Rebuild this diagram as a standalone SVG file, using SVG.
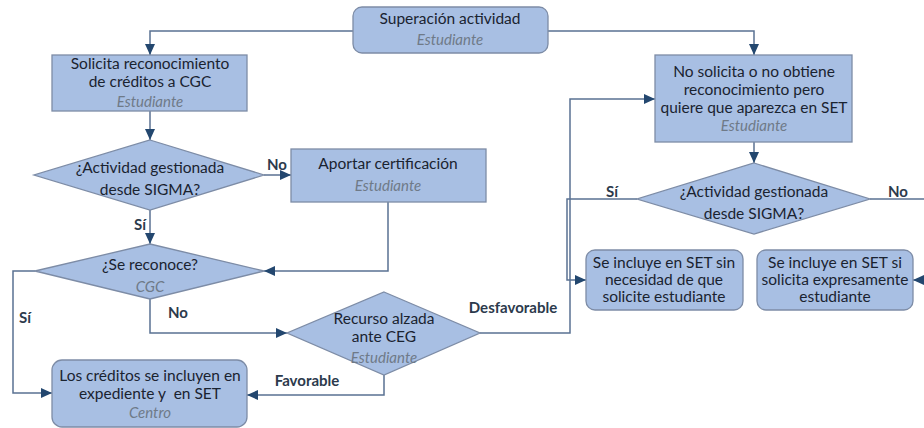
<svg xmlns="http://www.w3.org/2000/svg" width="924" height="428" viewBox="0 0 924 428">
<defs>
<marker id="arr" markerUnits="userSpaceOnUse" markerWidth="12" markerHeight="10" refX="11" refY="5" orient="auto">
<path d="M0,0 L11,5 L0,10 z" fill="#23476f"/>
</marker>
<style>
.shape{fill:#a8bfe3;stroke:#7d8ca6;stroke-width:1.3}
.t{font-family:Lato,"Liberation Sans",sans-serif;font-size:15.5px;fill:#1a2330;text-anchor:middle}
.r{font-family:Lato,"Liberation Sans",sans-serif;font-size:15px;font-style:italic;fill:#6f7a88;text-anchor:middle}
.lbl{font-family:Lato,"Liberation Sans",sans-serif;font-size:15px;font-weight:bold;fill:#2c3a4c;text-anchor:middle}
.c{fill:none;stroke:#5a7192;stroke-width:1.5;marker-end:url(#arr)}
.pre{white-space:pre}
</style>
</defs>
<rect width="924" height="428" fill="#ffffff"/>
<g id="connectors">
<path class="c" d="M353,31 H150 V55"/>
<path class="c" d="M548,31 H754 V55"/>
<path class="c" d="M150,111 V140"/>
<path class="c" d="M264,175 H291"/>
<path class="c" d="M150,210 V244"/>
<path class="c" d="M388,202 V271 H264"/>
<path class="c" d="M35,271 H13 V393 H52"/>
<path class="c" d="M150,299 V333 H287"/>
<path class="c" d="M384,375 V395 H247"/>
<path class="c" d="M480,333 H570 V99 H655"/>
<path class="c" d="M754,142 V163"/>
<path class="c" d="M637,199 H567 V280 H586"/>
<path class="c" d="M870,199 H932 V280 H913"/>
<text class="lbl" x="277" y="170">No</text>
<text class="lbl" x="140" y="230">Sí</text>
<text class="lbl" x="25" y="323">Sí</text>
<text class="lbl" x="178" y="318">No</text>
<text class="lbl" x="307" y="386">Favorable</text>
<text class="lbl" x="513" y="313">Desfavorable</text>
<text class="lbl" x="612" y="197">Sí</text>
<text class="lbl" x="898" y="197">No</text>
</g>
<g id="superacion">
<rect class="shape" x="353" y="7" width="195" height="46" rx="9"/>
<text class="t" x="450" y="24">Superación actividad</text>
<text class="r" x="450" y="45">Estudiante</text>
</g>
<g id="solicita">
<rect class="shape" x="52" y="55" width="195" height="56"/>
<text class="t" x="150" y="69">Solicita reconocimiento</text>
<text class="t" x="150" y="87">de créditos a CGC</text>
<text class="r" x="150" y="107">Estudiante</text>
</g>
<g id="gestionada1">
<polygon class="shape" points="150,140 264,175 150,210 34,175"/>
<text class="t" x="150" y="173">¿Actividad gestionada</text>
<text class="t" x="150" y="195">desde SIGMA?</text>
</g>
<g id="aportar">
<rect class="shape" x="291" y="149" width="195" height="53"/>
<text class="t" x="388" y="169">Aportar certificación</text>
<text class="r" x="388" y="191">Estudiante</text>
</g>
<g id="reconoce">
<polygon class="shape" points="150,244 264,271 150,299 35,271"/>
<text class="t" x="150" y="270">¿Se reconoce?</text>
<text class="r" x="150" y="292">CGC</text>
</g>
<g id="recurso">
<polygon class="shape" points="384,292 480,333 384,375 287,333"/>
<text class="t" x="384" y="324">Recurso alzada</text>
<text class="t" x="384" y="342">ante CEG</text>
<text class="r" x="384" y="363">Estudiante</text>
</g>
<g id="creditos">
<rect class="shape" x="52" y="360" width="195" height="67" rx="10"/>
<text class="t" x="150" y="381">Los créditos se incluyen en</text>
<text class="t pre" x="150" y="399" xml:space="preserve">expediente y  en SET</text>
<text class="r" x="150" y="418">Centro</text>
</g>
<g id="nosolicita">
<rect class="shape" x="655" y="55" width="197" height="87"/>
<text class="t" x="754" y="77">No solicita o no obtiene</text>
<text class="t" x="754" y="95">reconocimiento pero</text>
<text class="t" x="754" y="113">quiere que aparezca en SET</text>
<text class="r" x="754" y="131">Estudiante</text>
</g>
<g id="gestionada2">
<polygon class="shape" points="754,163 870,199 754,234 637,199"/>
<text class="t" x="754" y="197">¿Actividad gestionada</text>
<text class="t" x="754" y="219">desde SIGMA?</text>
</g>
<g id="sinnecesidad">
<rect class="shape" x="586" y="250" width="157" height="60" rx="9"/>
<text class="t" x="664" y="268">Se incluye en SET sin</text>
<text class="t" x="664" y="285">necesidad de que</text>
<text class="t" x="664" y="302">solicite estudiante</text>
</g>
<g id="expresamente">
<rect class="shape" x="757" y="250" width="156" height="60" rx="9"/>
<text class="t" x="835" y="268">Se incluye en SET si</text>
<text class="t" x="835" y="285">solicita expresamente</text>
<text class="t" x="835" y="302">estudiante</text>
</g>
</svg>
